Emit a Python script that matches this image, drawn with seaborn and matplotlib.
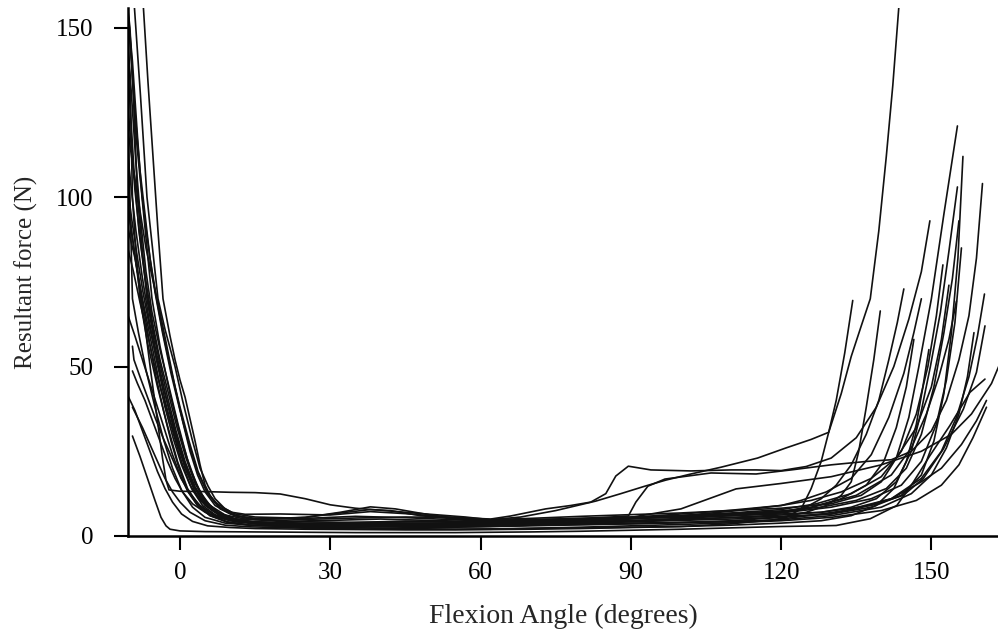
import matplotlib
matplotlib.use("Agg")
import matplotlib.pyplot as plt
import seaborn as sns
import pandas as pd

# Each trial: (flexion angle in degrees, resultant force in N)
t01 = [(-7.4,158),(-6.4,134),(-5.4,112),(-4.4,90),(-3.4,70),(-2,59),(-1,52),(0,46),(1,41),(2,34.5),(3,28),(4,21),(5,15),(6,12),(7,10),(8.5,8.5),(10.3,7),(13,6.4),(20,6.5),(30,6.2),(38,7.2),(45,6.6),(55,5.4),(61,4.8),(70,5.2),(80,5.8),(90,6.3),(100,6.8),(110,7.5),(120,8.2),(130,9.5),(136,12),(140,16),(143,23),(145.5,35),(147.5,50),(150,70),(152.5,95),(155.2,121)]
t02 = [(-9.2,158),(-7.9,130),(-6.6,100),(-5.5,85),(-4.4,70),(-3,61),(-1,50),(0.5,40),(2.4,28.6),(4,20),(5.6,14.7),(7,11),(9,8),(11,6.5),(15,5.6),(25,5.2),(35,5.8),(45,5.4),(55,4.8),(61,4.4),(70,4.6),(80,5),(90,5.3),(100,5.6),(110,6),(120,6.5),(128,7),(134,8.5),(139,11),(143,16),(146,25),(148,37),(149.8,50),(151.8,66),(153.5,84),(155.2,103)]
t03 = [(-10.6,158),(-9.5,140),(-8.5,118),(-7.6,100),(-6.6,85),(-5.6,70),(-4,56),(-2,42),(0,30),(2,20),(4,13),(6,9),(9,6.2),(13,5),(20,4.3),(30,4.6),(40,5),(50,4.6),(60,4.2),(70,3.8),(80,3.6),(90,3.8),(100,4),(110,4.2),(118,4.6),(121,5.5),(124,8),(126,14),(128,22),(129.5,30.6),(132,42),(134,53),(136,62),(137.8,70),(139.5,90),(141,112),(142.3,133),(143.6,158)]
t04 = [(-10.6,158),(-10,150),(-9.3,130),(-8.5,100),(-7.5,84),(-6.6,70),(-5,56),(-3,42),(-1,30),(1,20),(3,13),(5,9),(8,6),(12,4.5),(15,4),(25,3.6),(35,3.4),(45,3.2),(55,3.4),(62,3.6),(70,3.8),(80,4),(90,4.2),(100,4.6),(110,5),(120,5.5),(130,6.5),(138,8.5),(144,12),(148,18),(150.5,28),(152.5,42),(154,60),(155.3,82),(156.3,112)]
t05 = [(-10.6,145),(-10,135),(-9.5,100),(-9,88),(-8,70),(-6.5,57),(-4.5,44),(-2.6,33),(-0.5,22),(1.5,14),(3.5,9.5),(6,6.5),(10,4.5),(15,3.8),(25,3.5),(35,3.2),(45,3),(55,3),(62,3.1),(70,3.2),(80,3.4),(90,3.6),(100,4),(110,4.5),(120,5.5),(125,7),(129,9),(132,12),(134,16),(135.5,25),(137,38),(138.5,52),(139.8,66.4)]
t06 = [(-10.6,130),(-10,100),(-9.5,70),(-8.3,60),(-6.8,49),(-5,38),(-3.2,28),(-1.5,20),(0.3,13.5),(2.5,8.5),(5,5.5),(9,3.8),(14,3.2),(25,2.6),(35,2.4),(45,2.2),(55,2),(62,2),(70,2.2),(80,2.4),(90,2.6),(100,2.8),(110,3.2),(120,3.8),(128,4.5),(134,6),(139,9),(142.5,14),(145,22),(147,33),(148.3,44),(149.5,55)]
t07 = [(-10.6,122),(-9.5,110),(-8,96),(-6.8,85),(-5.5,76),(-4,66),(-2.5,55),(-1,44),(0.5,34),(2,25),(3.5,18),(5,13),(7,9),(10,6.5),(14,5),(25,4.2),(35,4),(45,3.8),(55,3.6),(62,3.5),(70,3.8),(80,4.2),(90,4.6),(100,5),(110,5.4),(120,5.8),(130,6.5),(142,11),(148,17),(152,25),(155,35),(157.5,47),(159.2,59),(160.6,71.4)]
t08 = [(-10.6,92),(-9,82),(-7.5,70),(-6,59),(-4.5,48),(-3,38),(-1.4,29),(0.3,21),(2,15),(4,10.5),(6.5,7.5),(10,5.2),(14,4.2),(25,3.4),(35,3.2),(45,3),(55,2.8),(62,2.9),(70,3.2),(80,3.6),(90,4.2),(100,4.8),(110,5.5),(120,6.2),(128,7),(138,9),(144.4,12),(148.4,17),(152.4,25.7),(156.4,37.5),(159,48.3),(160.7,62)]
t09 = [(-9.5,56),(-9.2,52),(-8,47),(-6.5,41),(-5,35),(-3.4,29),(-1.6,23),(0.2,17),(2,12.5),(4,9),(7,6),(11,4.2),(16,3.4),(25,3),(35,2.8),(45,2.6),(55,2.6),(62,2.8),(70,3),(80,3.3),(90,3.6),(100,3.9),(110,4.3),(120,4.8),(130,6),(140,8.5),(146,12.5),(150,18),(153,26),(155.5,36),(157.2,47),(158.5,60)]
t10 = [(-9.5,48.7),(-8.5,45),(-7,40),(-5.5,34),(-4,28),(-2.5,22),(-1,17),(0.5,13),(2.5,9.5),(5,7),(8,5.2),(12,4.2),(25,3.2),(35,3),(45,2.8),(55,2.7),(62,2.8),(70,3.2),(80,3.8),(90,4.5),(100,5.2),(110,6),(120,7),(126,8.5),(132,11),(137,15),(140.5,22),(143,32),(145,44),(146.5,58)]
t11 = [(-9.5,38),(-9,36.5),(-7.5,32),(-6,27),(-4.5,22),(-3,17),(-1.5,13),(0,10),(2,7),(5,4.5),(9,3.2),(14,2.7),(25,2.3),(35,2.1),(45,2),(55,2),(62,2.1),(70,2.3),(80,2.6),(90,3),(100,3.4),(110,3.9),(120,4.5),(130,5.5),(140,7.5),(147,10.5),(152,15),(155.5,21),(158.3,29),(161,38)]
t12 = [(-9.5,29.5),(-8,23.5),(-6.5,17),(-5,10.5),(-3.8,5.5),(-2.8,3),(-2,2),(0,1.5),(5,1.3),(15,1.2),(25,1.1),(35,1),(45,1),(55,1),(62,1.1),(70,1.2),(80,1.4),(90,1.7),(100,2),(110,2.4),(120,2.8),(128,3),(131,3.1),(137.8,5.1),(143.1,9),(146.4,15.9),(149.7,23.7),(153.7,32.6),(157.7,42.4),(160.7,46.3)]
t13 = [(-10.6,100),(-9.5,88),(-8.3,75),(-7,62),(-5.8,48),(-4.6,35),(-3.5,23),(-2.8,16.5),(-2.2,13.6),(0,13.2),(5,13.1),(10,12.9),(15,12.8),(20,12.4),(25,11),(30,9.2),(35,8.2),(40,7.6),(45,7),(50,6.4),(57,5.6),(62,4.8),(68,5.6),(75,7.5),(83,10.3),(88,12.5),(92.8,14.7),(97,16.5),(102,18.3),(108,20.3),(115.3,23),(121,26),(126,28.5),(129.5,30.6),(131,40),(132.7,54),(134.3,69.5)]
t14 = [(-10.6,158),(-9.9,145),(-9,125),(-8,108),(-7,95),(-6,82),(-5,72),(-3.5,60),(-1.8,48),(0,37),(1.8,27),(3.5,19),(5.5,12.5),(8,8),(11,6),(15,5.2),(25,4.9),(35,5.3),(45,5.6),(55,5.5),(62,5),(66,5.9),(73,8),(78,9),(82,10),(85,12.5),(87,17.7),(89.5,20.6),(94,19.5),(102,19.2),(110,19.5),(115,19.5),(120,19.3),(125,20.5),(130,23),(135,29),(139,38),(142.5,50),(145.5,64),(148,78),(149.7,93)]
t15 = [(-10.6,150),(-9.6,128),(-8.8,110),(-7.8,92),(-6.8,78),(-5.6,66),(-4,55),(-2.2,44),(-0.4,33),(1.4,23),(3.2,15.5),(5.2,10),(8,6.5),(11,5),(15,4.8),(25,5.5),(32,6.8),(38,7.8),(42,7.5),(48,6),(55,5),(62,4.6),(70,4.8),(80,5.2),(90,5.6),(100,6),(110,6.6),(120,7.4),(128,8.5),(135,10.5),(141,14),(145,20),(148,30),(150.5,44),(152.5,60),(154.2,76),(155.5,93)]
t16 = [(-10.6,104),(-9.6,93),(-8.6,83),(-7.4,72),(-6,61),(-4.5,51),(-2.8,41),(-1,31),(0.8,22),(2.6,15),(4.6,10),(7,7),(10,5.2),(14,4.2),(25,3.6),(35,4),(45,4.4),(55,4.2),(62,4.3),(70,4.6),(80,5),(90,5.4),(100,5.8),(110,6.4),(120,7.2),(125,8),(135,12),(142,18),(146,26),(149,36),(151.5,47),(153.5,58),(155,69.3)]
t17 = [(-10.6,140),(-10,128),(-9.2,108),(-8.2,90),(-7,76),(-5.8,64),(-4.2,52),(-2.5,41),(-0.8,31),(1,22),(3,14.5),(5,10),(7.5,7),(11,5),(15,3.8),(25,3.3),(35,3.6),(45,3.8),(55,3.9),(62,4),(70,4.4),(80,4.8),(90,5.2),(100,5.6),(110,6.2),(120,7),(125,8.5),(128,11),(131,15),(134,21),(137,30),(139.5,40),(141.5,52),(143.2,63),(144.5,72.9)]
t18 = [(-10.6,115),(-9.7,102),(-8.8,90),(-7.6,77),(-6.2,64),(-4.7,52),(-3,40),(-1.3,30),(0.5,21),(2.3,14),(4.5,9),(7,6.3),(10,4.8),(15,4),(25,3.5),(35,3.3),(45,3.2),(55,3.3),(62,3.6),(70,4),(80,4.6),(90,5.3),(100,6),(110,6.8),(120,7.8),(127,9.5),(134,12.5),(140,17.5),(144,25),(147,36),(149.3,50),(151,65),(152.3,80)]
t19 = [(-10.6,66),(-9,59),(-7.5,52),(-6,45),(-4.5,38),(-3,31),(-1.5,24),(0,18),(1.6,13),(3.5,9),(6,6),(9.5,4),(14,3.2),(25,2.6),(35,2.6),(45,2.8),(55,3),(62,3.2),(70,3.6),(80,4),(90,5.5),(100,8),(111,13.9),(120,15.5),(130,17.5),(140,21),(148,25),(154,30),(158,36),(162,45),(164,52)]
t20 = [(-10.6,42),(-9,37),(-7.5,31),(-6,25),(-4.5,19),(-3,14),(-1.5,10),(0.3,6.5),(2.5,4.3),(5.5,3),(10,2.5),(15,2.2),(25,2),(35,1.9),(45,1.8),(55,1.8),(62,1.9),(70,2),(80,2.2),(90,2.5),(100,2.8),(110,3.6),(120,5),(128,6.5),(135,8),(142,11),(148,16),(152,20),(156,27),(159,34),(161,40)]
t21 = [(-10.6,158),(-9.7,140),(-8.9,120),(-8,106),(-7,93),(-6,82),(-4.8,71),(-3.4,60),(-1.8,49),(0,38),(1.8,28),(3.6,19),(5.6,12.5),(8,8.5),(11,6),(15,5),(25,5.5),(32,7),(38,8.6),(43,8),(50,6.2),(56,5),(62,4.6),(70,4.8),(80,5.2),(86,5.6),(89.5,5.9),(91,10),(93.4,14.7),(96.8,16.8),(106,18.6),(115,18.3),(122,19.5),(130,21),(137,22),(142,22.5),(146,25),(150,31),(153,40),(155.5,52),(157.5,65),(159,82),(160.2,104)]
t22 = [(-10.6,86),(-9.3,78),(-8,69),(-6.6,60),(-5.2,51),(-3.8,43),(-2.2,35),(-0.5,27),(1.2,20),(3,14),(5,9.5),(7.5,6.5),(11,4.8),(15,4.1),(25,3.8),(35,3.6),(45,3.5),(55,3.6),(62,3.8),(70,4.2),(80,4.8),(90,5.5),(100,6.5),(110,7.6),(120,9),(126,10.5),(132,13),(138,17),(143,23),(147,32),(150,44),(152,58),(153.5,74)]
t23 = [(-10.6,130),(-9.8,116),(-9,102),(-8,88),(-6.8,75),(-5.5,63),(-4,52),(-2.3,42),(-0.6,32),(1.2,23),(3,15.5),(5,10.5),(7.5,7),(11,5),(15,4.1),(25,3.7),(35,3.9),(45,4.2),(55,4.3),(62,4.4),(70,4.6),(80,4.9),(90,5.2),(100,5.6),(110,6.1),(120,6.8),(130,8.5),(138,11),(144,15),(148,22),(151,33),(153,46),(154.7,63),(156,85)]
t24 = [(-10.6,100),(-9.7,90),(-8.7,80),(-7.5,69),(-6.2,58),(-4.8,47),(-3.3,37),(-1.8,28),(-0.2,20),(1.5,13.5),(3.5,9),(6,6),(9.5,4.2),(14,3.2),(25,2.8),(35,2.9),(45,3),(55,3.1),(62,3.3),(70,3.7),(80,4.3),(90,5),(100,6),(110,7.3),(120,9),(124,10.5),(129,13),(134,17),(138,24),(141.5,35),(144.5,48),(146.5,60),(148,70)]

trials = [t01, t02, t03, t04, t05, t06, t07, t08, t09, t10, t11, t12,
          t13, t14, t15, t16, t17, t18, t19, t20, t21, t22, t23, t24]

x_ticks = [0, 30, 60, 90, 120, 150]
y_ticks = [0, 50, 100, 150]

rows = []
for i, tr in enumerate(trials):
    for j, (a, f) in enumerate(tr):
        rows.append({"trial": i, "order": j, "angle": a, "force": f})
df = pd.DataFrame(rows)

sns.set_style("ticks")
plt.rcParams["font.family"] = ["Liberation Serif", "DejaVu Serif"]

fig = plt.figure(figsize=(9.98, 6.32), dpi=100)
ax = fig.add_axes([0.1283, 0.1519, 0.8717, 0.8354])

sns.lineplot(data=df, x="angle", y="force", units="trial", estimator=None,
             sort=False, color="#111111", linewidth=1.2, legend=False, ax=ax)

ax.set_xlim(-10.38, 163.3)
ax.set_ylim(0, 155.8)
ax.set_xticks(x_ticks)
ax.set_yticks(y_ticks)
ax.tick_params(axis="both", direction="out", length=10, width=1.5,
               labelsize=18, colors="black")
ax.tick_params(axis="y", pad=15)
ax.tick_params(axis="x", pad=9)
for s in ["top", "right"]:
    ax.spines[s].set_visible(False)
for s in ["left", "bottom"]:
    ax.spines[s].set_linewidth(1.8)
    ax.spines[s].set_color("black")

ax.set_xlabel("Flexion Angle (degrees)", fontsize=20, labelpad=14)
ax.set_ylabel("Resultant force (N)", fontsize=18, labelpad=13)

fig.savefig("out.png", dpi=100)
